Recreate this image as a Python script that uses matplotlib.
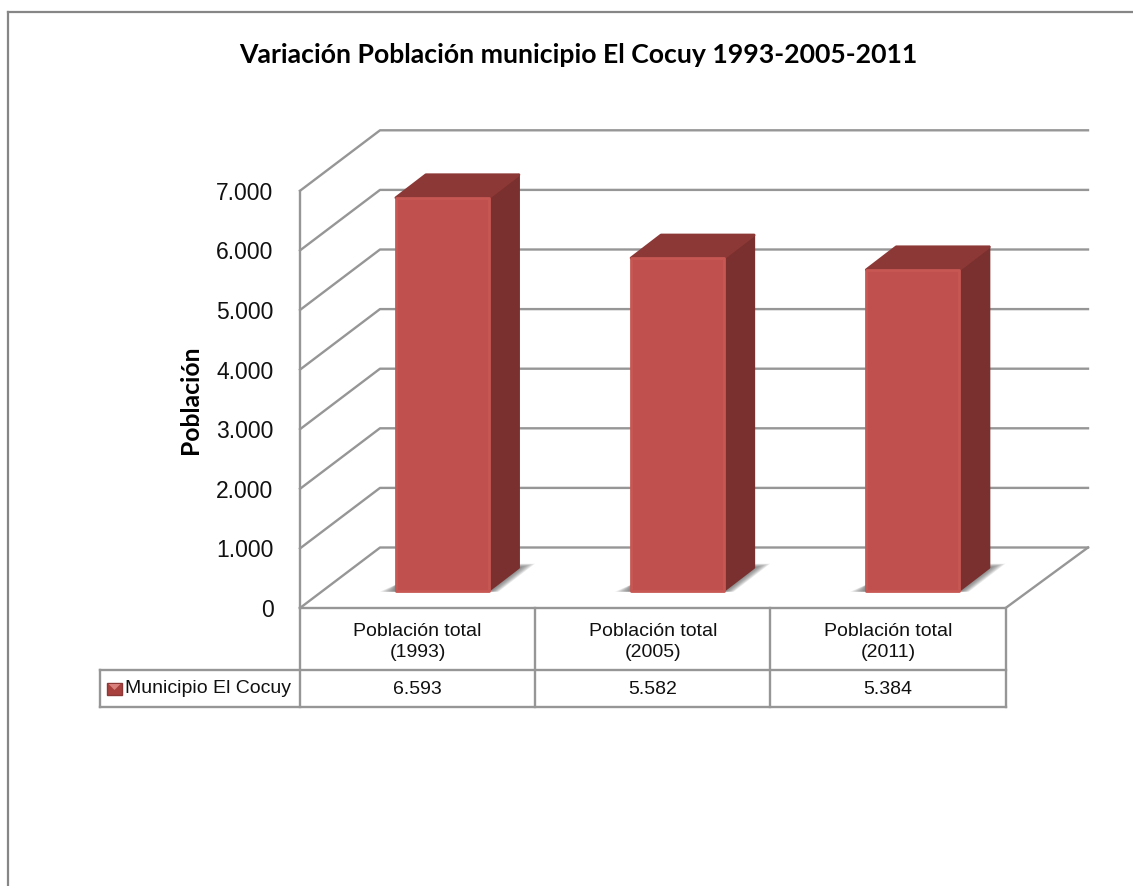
import matplotlib
matplotlib.use('Agg')
import matplotlib.pyplot as plt
from matplotlib.lines import Line2D
from matplotlib.patches import Polygon, Rectangle

# Data
categories = ['Población total\n(1993)', 'Población total\n(2005)', 'Población total\n(2011)']
values = [6593, 5582, 5384]
value_labels = ['6.593', '5.582', '5.384']
series_name = 'Municipio El Cocuy'
y_ticks = [0, 1000, 2000, 3000, 4000, 5000, 6000, 7000]
y_tick_labels = ['0', '1.000', '2.000', '3.000', '4.000', '5.000', '6.000', '7.000']

W, H = 1133, 886
GRID = '#969696'
FRONT = '#C0504D'
TOP = '#8C3836'
SIDE = '#7A302E'
TEXT_FONT = 'Liberation Sans'

fig = plt.figure(figsize=(W / 100, H / 100), dpi=100)
fig.patch.set_facecolor('white')

# Axes box in pixels: front wall starts at x=300, floor at y=608
left, right, bottom, top = 300, 1088, 608, 130.7
ax = fig.add_axes([left / W, 1 - bottom / H, (right - left) / W, (bottom - top) / H])
cat_px = 235.2
unit_px = 0.0596
ax.set_xlim(0, (right - left) / cat_px)
ax.set_ylim(0, (bottom - top) / unit_px)
ax.patch.set_alpha(0)
for s in ax.spines.values():
    s.set_visible(False)

# Pixel distances converted to data units
def dx_(px):
    return px / cat_px

def dy_(px):
    return px / unit_px

depth_x, depth_y = dx_(80), dy_(60.5)
n = len(categories)
xmax = ax.get_xlim()[1]

# Outer chart frame, only top and left are visible
fig.add_artist(Line2D([8 / W, 8 / W], [0, 1 - 11.5 / H], color='#868686', lw=1.6))
fig.add_artist(Line2D([8 / W, 1], [1 - 11.5 / H, 1 - 11.5 / H], color='#868686', lw=1.6))

# 3D walls and gridlines
for v in y_ticks:
    ax.plot([0, depth_x, xmax], [v, v + depth_y, v + depth_y], color=GRID, lw=1.7, clip_on=False, zorder=1)
ax.plot([0, 0], [0, y_ticks[-1]], color=GRID, lw=1.7, clip_on=False, zorder=1)
ax.plot([0, n, xmax], [0, 0, depth_y], color=GRID, lw=1.7, clip_on=False, zorder=1)

# Bars drawn as front, top and side faces
off_x, base = dx_(24.8), dy_(17.3)
half = dx_(46.5)
bar_dx, bar_dy = dx_(30), dy_(23)
for i, v in enumerate(values):
    x0 = i + 0.5 + off_x - half
    x1 = i + 0.5 + off_x + half
    y0 = base
    y1 = base + v

    # soft shadow on the floor
    steps = 10
    for k in range(steps):
        t = k / (steps - 1)
        grow = dx_(16) * (1 - t)
        ax.add_patch(Polygon([(x0 - grow, y0 - dy_(1)), (x1 + grow * 0.6, y0 - dy_(1)),
                              (x1 + bar_dx + grow, y0 + bar_dy + dy_(4) * (1 - t)),
                              (x1 + bar_dx - dx_(6), y0 + bar_dy + dy_(4) * (1 - t)),
                              (x1, y0 + dy_(8)), (x0, y0 + dy_(6))],
                             closed=True, fc='#505050', ec='none', alpha=0.11, zorder=2))

    ax.add_patch(Polygon([(x1, y0), (x1 + bar_dx, y0 + bar_dy), (x1 + bar_dx, y1 + bar_dy), (x1, y1)],
                         closed=True, fc=SIDE, ec=SIDE, lw=1.5, joinstyle='round', zorder=3))
    ax.add_patch(Polygon([(x0, y1), (x1, y1), (x1 + bar_dx, y1 + bar_dy), (x0 + bar_dx, y1 + bar_dy)],
                         closed=True, fc=TOP, ec=TOP, lw=2, joinstyle='round', zorder=3))
    ax.add_patch(Rectangle((x0, y0), x1 - x0, v, fc=FRONT, ec='#C65753', lw=2, joinstyle='round', zorder=4))

# Y axis
ax.set_xticks([])
ax.set_yticks(y_ticks)
ax.set_yticklabels(y_tick_labels, fontsize=16.5, family=TEXT_FONT, color='#111111')
ax.tick_params(axis='y', length=0, pad=19)

# Data table under the plot
trans = ax.get_xaxis_transform()

def row(py):
    return (bottom - py) / (bottom - top)

row_mid, row_bot = 670, 707
legend_x = (99.5 - left) / cat_px
for i in range(n + 1):
    ax.plot([i, i], [row(bottom), row(row_bot)], color=GRID, lw=1.7, transform=trans, clip_on=False)
ax.plot([legend_x, n], [row(row_mid), row(row_mid)], color=GRID, lw=1.7, transform=trans, clip_on=False)
ax.plot([legend_x, n], [row(row_bot), row(row_bot)], color=GRID, lw=1.7, transform=trans, clip_on=False)
ax.plot([legend_x, legend_x], [row(row_mid), row(row_bot)], color=GRID, lw=1.7, transform=trans, clip_on=False)

for i in range(n):
    ax.text(i + 0.5, row(642), categories[i], transform=trans, ha='center', va='center',
            fontsize=14, family=TEXT_FONT, color='#111111', linespacing=1.3, clip_on=False)
    ax.text(i + 0.5, row(689), value_labels[i], transform=trans, ha='center', va='center',
            fontsize=14, family=TEXT_FONT, color='#111111', clip_on=False)

# Legend key and series name
fig.add_artist(Rectangle((107 / W, 1 - 695 / H), 15 / W, 12 / H, transform=fig.transFigure,
                         fc='#A8403D', ec='#8C3836', lw=1))
fig.add_artist(Polygon([(108.5 / W, 1 - 684 / H), (120.5 / W, 1 - 684 / H), (114.5 / W, 1 - 690 / H)],
                       closed=True, transform=fig.transFigure, fc='#D9807C', ec='none'))
fig.text(125 / W, 1 - 688.5 / H, series_name, ha='left', va='center', fontsize=14, family=TEXT_FONT, color='#111111')

# Titles
fig.text(578 / W, 1 - 55 / H, 'Variación Población municipio El Cocuy 1993-2005-2011', ha='center', va='center',
         fontsize=19.2, fontweight='bold', family='Lato', color='black')
fig.text(190 / W, 1 - 400 / H, 'Población', rotation=90, ha='center', va='center',
         fontsize=17.8, fontweight='bold', family='Lato', color='black')

fig.savefig('out.png', dpi=100, facecolor='white')
